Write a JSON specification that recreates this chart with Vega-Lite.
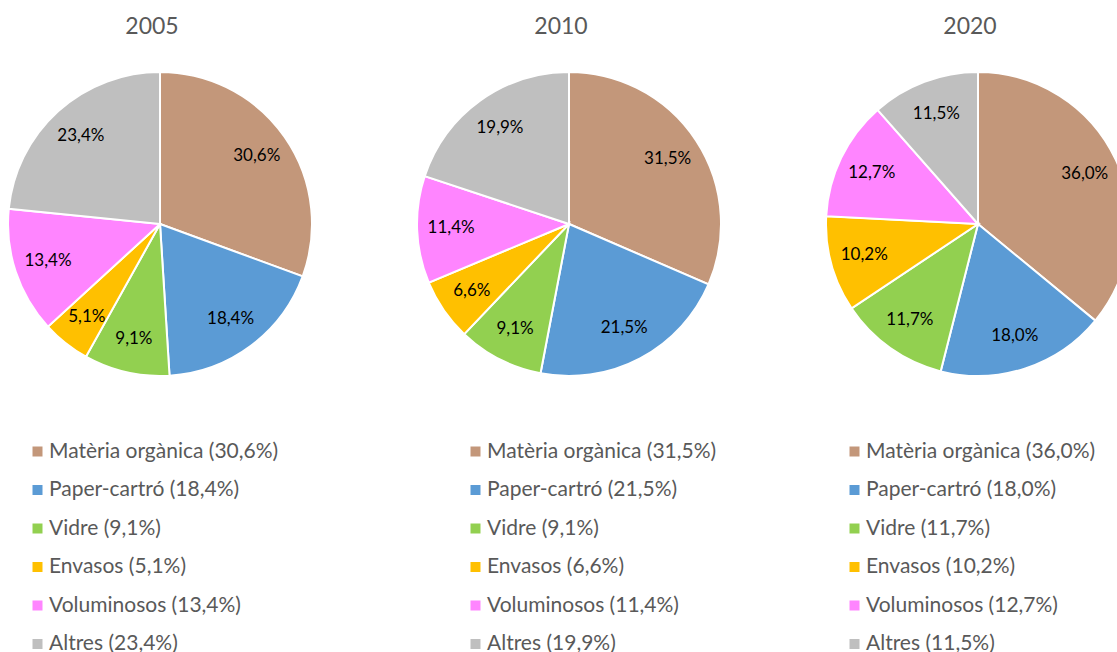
{
  "$schema": "https://vega.github.io/schema/vega-lite/v6.json",
  "padding": {"left": 4, "top": 16, "right": 0, "bottom": 0},
  "bounds": "flush",
  "spacing": 105,
  "config": {
    "view": {"stroke": null},
    "font": "Lato",
    "title": {"font": "Lato", "fontSize": 23, "fontWeight": "normal", "color": "#595959", "anchor": "middle", "offset": 29, "dx": -8},
    "legend": {"orient": "none", "title": null, "labelFont": "Lato", "labelFontSize": 21, "labelColor": "#595959", "symbolType": "square", "symbolSize": 100, "symbolStrokeWidth": 0, "rowPadding": 16.5, "labelOffset": 1, "padding": 0, "labelLimit": 400}
  },
  "datasets": {
    "d": [
      {"year": "2005", "k": 1, "pct": 30.6, "label": "30,6%", "leg": "Matèria orgànica (30,6%)"},
      {"year": "2005", "k": 2, "pct": 18.4, "label": "18,4%", "leg": "Paper-cartró (18,4%)"},
      {"year": "2005", "k": 3, "pct": 9.1, "label": "9,1%", "leg": "Vidre (9,1%)"},
      {"year": "2005", "k": 4, "pct": 5.1, "label": "5,1%", "leg": "Envasos (5,1%)"},
      {"year": "2005", "k": 5, "pct": 13.4, "label": "13,4%", "leg": "Voluminosos (13,4%)"},
      {"year": "2005", "k": 6, "pct": 23.4, "label": "23,4%", "leg": "Altres (23,4%)"},
      {"year": "2010", "k": 1, "pct": 31.5, "label": "31,5%", "leg": "Matèria orgànica (31,5%)"},
      {"year": "2010", "k": 2, "pct": 21.5, "label": "21,5%", "leg": "Paper-cartró (21,5%)"},
      {"year": "2010", "k": 3, "pct": 9.1, "label": "9,1%", "leg": "Vidre (9,1%)"},
      {"year": "2010", "k": 4, "pct": 6.6, "label": "6,6%", "leg": "Envasos (6,6%)"},
      {"year": "2010", "k": 5, "pct": 11.4, "label": "11,4%", "leg": "Voluminosos (11,4%)"},
      {"year": "2010", "k": 6, "pct": 19.9, "label": "19,9%", "leg": "Altres (19,9%)"},
      {"year": "2020", "k": 1, "pct": 36.0, "label": "36,0%", "leg": "Matèria orgànica (36,0%)"},
      {"year": "2020", "k": 2, "pct": 18.0, "label": "18,0%", "leg": "Paper-cartró (18,0%)"},
      {"year": "2020", "k": 3, "pct": 11.7, "label": "11,7%", "leg": "Vidre (11,7%)"},
      {"year": "2020", "k": 4, "pct": 10.2, "label": "10,2%", "leg": "Envasos (10,2%)"},
      {"year": "2020", "k": 5, "pct": 12.7, "label": "12,7%", "leg": "Voluminosos (12,7%)"},
      {"year": "2020", "k": 6, "pct": 11.5, "label": "11,5%", "leg": "Altres (11,5%)"}
    ]
  },
  "resolve": {"scale": {"color": "independent", "theta": "independent"}},
  "hconcat": [
    {
      "title": "2005",
      "width": 304, "height": 304,
      "data": {"name": "d"},
      "transform": [{"filter": "datum.year == '2005'"}],
      "encoding": {
        "theta": {"field": "pct", "type": "quantitative", "stack": true},
        "order": {"field": "k", "type": "quantitative"}
      },
      "layer": [
        {"mark": {"type": "arc", "outerRadius": 152, "stroke": "white", "strokeWidth": 2},
         "encoding": {"color": {"field": "leg", "type": "nominal",
           "scale": {"domain": ["Matèria orgànica (30,6%)", "Paper-cartró (18,4%)", "Vidre (9,1%)", "Envasos (5,1%)", "Voluminosos (13,4%)", "Altres (23,4%)"],
                     "range": ["#C3977A", "#5B9BD5", "#92D050", "#FFC000", "#FF85FF", "#BFBFBF"]},
           "legend": {"legendX": 19, "legendY": 369}}}},
        {"mark": {"type": "text", "radius": 118, "fontSize": 17, "font": "Lato", "color": "black"},
         "encoding": {"text": {"field": "label"}, "detail": {"field": "leg"}}}
      ]
    },
    {
      "title": "2010",
      "width": 304, "height": 304,
      "data": {"name": "d"},
      "transform": [{"filter": "datum.year == '2010'"}],
      "encoding": {
        "theta": {"field": "pct", "type": "quantitative", "stack": true},
        "order": {"field": "k", "type": "quantitative"}
      },
      "layer": [
        {"mark": {"type": "arc", "outerRadius": 152, "stroke": "white", "strokeWidth": 2},
         "encoding": {"color": {"field": "leg", "type": "nominal",
           "scale": {"domain": ["Matèria orgànica (31,5%)", "Paper-cartró (21,5%)", "Vidre (9,1%)", "Envasos (6,6%)", "Voluminosos (11,4%)", "Altres (19,9%)"],
                     "range": ["#C3977A", "#5B9BD5", "#92D050", "#FFC000", "#FF85FF", "#BFBFBF"]},
           "legend": {"legendX": 48, "legendY": 369}}}},
        {"mark": {"type": "text", "radius": 118, "fontSize": 17, "font": "Lato", "color": "black"},
         "encoding": {"text": {"field": "label"}, "detail": {"field": "leg"}}}
      ]
    },
    {
      "title": "2020",
      "width": 304, "height": 304,
      "data": {"name": "d"},
      "transform": [{"filter": "datum.year == '2020'"}],
      "encoding": {
        "theta": {"field": "pct", "type": "quantitative", "stack": true},
        "order": {"field": "k", "type": "quantitative"}
      },
      "layer": [
        {"mark": {"type": "arc", "outerRadius": 152, "stroke": "white", "strokeWidth": 2},
         "encoding": {"color": {"field": "leg", "type": "nominal",
           "scale": {"domain": ["Matèria orgànica (36,0%)", "Paper-cartró (18,0%)", "Vidre (11,7%)", "Envasos (10,2%)", "Voluminosos (12,7%)", "Altres (11,5%)"],
                     "range": ["#C3977A", "#5B9BD5", "#92D050", "#FFC000", "#FF85FF", "#BFBFBF"]},
           "legend": {"legendX": 18, "legendY": 369}}}},
        {"mark": {"type": "text", "radius": 118, "fontSize": 17, "font": "Lato", "color": "black"},
         "encoding": {"text": {"field": "label"}, "detail": {"field": "leg"}}}
      ]
    }
  ]
}
